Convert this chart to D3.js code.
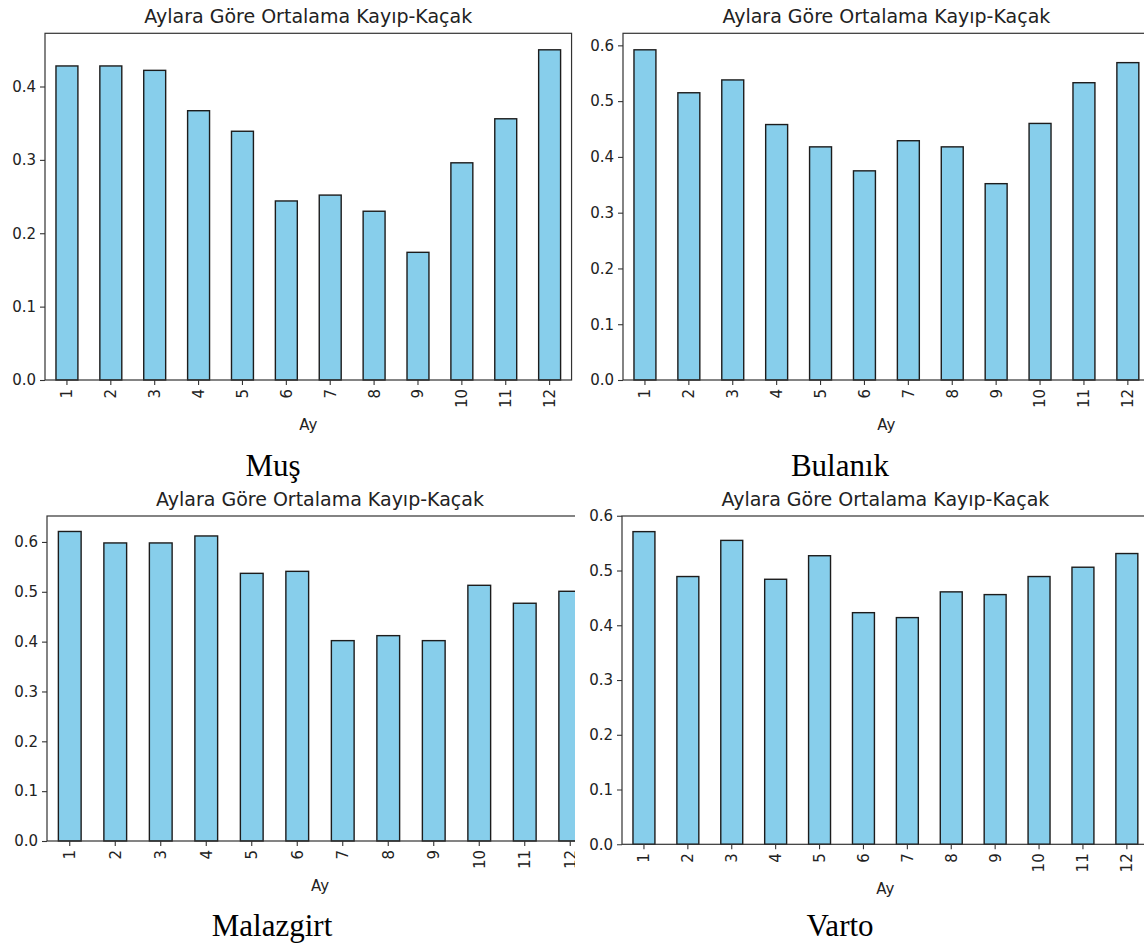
<!DOCTYPE html>
<html>
<head>
<meta charset="utf-8">
<script src="https://cdn.jsdelivr.net/npm/d3@7"></script>
<style>
  html, body { margin: 0; padding: 0; background: #ffffff; }
  svg { display: block; }
</style>
</head>
<body>
<svg id="chart" width="1144" height="947"></svg>
<script>
// ---- data ----
const months = [1, 2, 3, 4, 5, 6, 7, 8, 9, 10, 11, 12];
const chartTitle = "Aylara Göre Ortalama Kayıp-Kaçak";
const xAxisLabel = "Ay";
const districtNames = ["Muş", "Bulanık", "Malazgirt", "Varto"];
const musValues       = [0.428, 0.428, 0.422, 0.367, 0.339, 0.244, 0.252, 0.230, 0.174, 0.296, 0.356, 0.450];
const bulanikValues   = [0.592, 0.515, 0.538, 0.458, 0.418, 0.375, 0.429, 0.418, 0.352, 0.460, 0.533, 0.569];
const malazgirtValues = [0.621, 0.598, 0.598, 0.612, 0.537, 0.541, 0.402, 0.412, 0.402, 0.513, 0.477, 0.501];
const vartoValues     = [0.571, 0.489, 0.555, 0.484, 0.527, 0.423, 0.414, 0.461, 0.456, 0.489, 0.506, 0.531];
const yTicksMus   = [0, 0.1, 0.2, 0.3, 0.4];
const yTicksOther = [0, 0.1, 0.2, 0.3, 0.4, 0.5, 0.6];

// ---- layout (positions / styles) ----
const panels = [
  { name: districtNames[0], values: musValues,       ticks: yTicksMus,   left: 45,  unit: 43.88, top: 33.3, bottom: 380,   clipRight: 1144, capX: 273, capY: 476 },
  { name: districtNames[1], values: bulanikValues,   ticks: yTicksOther, left: 623, unit: 43.9,  top: 33.3, bottom: 380,   clipRight: 1144, capX: 840, capY: 476 },
  { name: districtNames[2], values: malazgirtValues, ticks: yTicksOther, left: 47,  unit: 45.5,  top: 516,  bottom: 841,   clipRight: 575,  capX: 272, capY: 936 },
  { name: districtNames[3], values: vartoValues,     ticks: yTicksOther, left: 622, unit: 43.9,  top: 516,  bottom: 844.3, clipRight: 1144, capX: 840, capY: 936 }
];

const BAR_FILL = "#87ceeb";
const BAR_EDGE = "#1c1c1c";
const SPINE = "#333333";
const TEXT = "#222222";
const SANS = "'DejaVu Sans', sans-serif";

const svg = d3.select("#chart");
svg.append("rect").attr("width", 1144).attr("height", 947).attr("fill", "#fff");
const defs = svg.append("defs");

panels.forEach((p, i) => {
  const width = p.unit * months.length;
  const right = p.left + width;
  const ymax = d3.max(p.values) * 1.05;

  const x = d3.scaleBand()
    .domain(months)
    .range([p.left, right])
    .paddingInner(0.5)
    .paddingOuter(0.25);
  const y = d3.scaleLinear().domain([0, ymax]).range([p.bottom, p.top]);

  defs.append("clipPath").attr("id", "clip" + i)
    .append("rect").attr("x", 0).attr("y", p.top - 60)
    .attr("width", p.clipRight).attr("height", p.bottom - p.top + 120);

  const g = svg.append("g").attr("clip-path", `url(#clip${i})`);

  // bars
  g.selectAll("rect.bar")
    .data(p.values)
    .join("rect")
    .attr("class", "bar")
    .attr("x", (d, j) => x(months[j]))
    .attr("width", x.bandwidth())
    .attr("y", d => y(d))
    .attr("height", d => y(0) - y(d))
    .attr("fill", BAR_FILL)
    .attr("stroke", BAR_EDGE)
    .attr("stroke-width", 1.4);

  // frame (spines)
  g.append("rect")
    .attr("x", p.left).attr("y", p.top)
    .attr("width", width).attr("height", p.bottom - p.top)
    .attr("fill", "none").attr("stroke", SPINE).attr("stroke-width", 1.2);

  // y axis
  const yAxis = g.append("g")
    .attr("transform", `translate(${p.left},0)`)
    .call(d3.axisLeft(y).tickValues(p.ticks).tickFormat(d3.format(".1f")).tickSize(5).tickPadding(4));
  yAxis.select(".domain").remove();
  yAxis.selectAll(".tick line").attr("stroke", SPINE).attr("stroke-width", 1.1);
  yAxis.selectAll(".tick text")
    .attr("fill", TEXT).style("font-family", SANS).style("font-size", "15px");

  // x axis
  const xAxis = g.append("g")
    .attr("transform", `translate(0,${p.bottom})`)
    .call(d3.axisBottom(x).tickSize(5).tickSizeOuter(0));
  xAxis.select(".domain").remove();
  xAxis.selectAll(".tick line").attr("stroke", SPINE).attr("stroke-width", 1.1);
  xAxis.selectAll(".tick text")
    .attr("fill", TEXT).style("font-family", SANS).style("font-size", "15px")
    .attr("transform", "rotate(-90)")
    .attr("text-anchor", "end")
    .attr("x", -9).attr("y", 0).attr("dy", "0.36em");

  // title
  g.append("text")
    .attr("x", p.left + width / 2).attr("y", p.top - 10.5)
    .attr("text-anchor", "middle")
    .attr("fill", TEXT).style("font-family", SANS).style("font-size", "19px")
    .text(chartTitle);

  // x label
  g.append("text")
    .attr("x", p.left + width / 2).attr("y", p.bottom + 50)
    .attr("text-anchor", "middle")
    .attr("fill", TEXT).style("font-family", SANS).style("font-size", "15px")
    .text(xAxisLabel);

  // caption
  svg.append("text")
    .attr("x", p.capX).attr("y", p.capY)
    .attr("text-anchor", "middle")
    .attr("fill", "#000").style("font-family", "'Liberation Serif', 'Times New Roman', serif").style("font-size", "31px")
    .text(p.name);
});
</script>
</body>
</html>
